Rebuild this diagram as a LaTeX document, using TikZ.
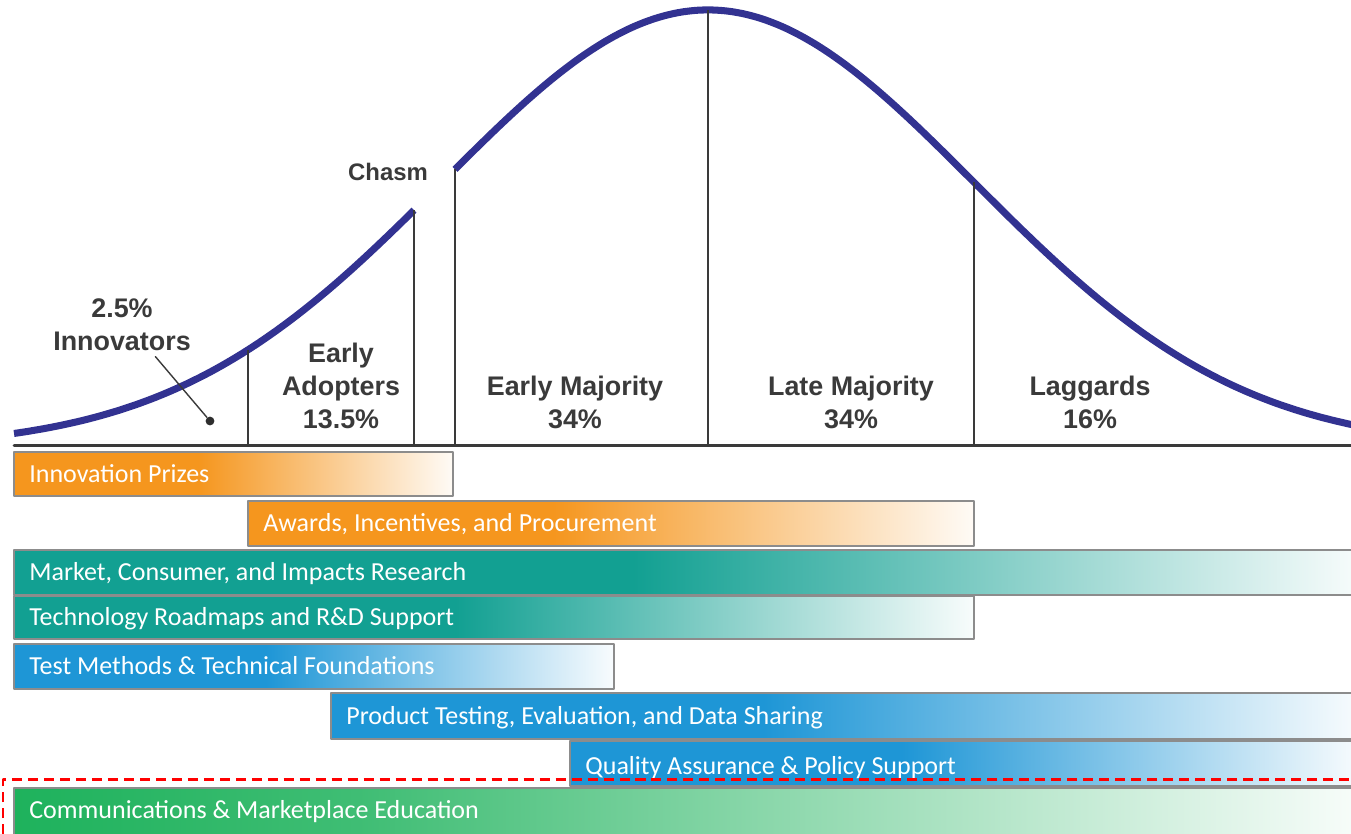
\documentclass[tikz,border=0pt]{standalone}
\usepackage{fontspec}
\setmainfont{Liberation Sans}
\newfontfamily\barfont{Carlito}
\definecolor{curveblue}{RGB}{50,50,145}
\definecolor{inkgrey}{RGB}{58,58,58}
\definecolor{bargrey}{RGB}{140,140,140}
\definecolor{barorange}{RGB}{245,150,30}
\definecolor{barteal}{RGB}{18,160,146}
\definecolor{barblue}{RGB}{30,150,214}
\definecolor{bargreen}{RGB}{30,178,92}
\pgfdeclarehorizontalshading{orangefade}{100bp}{color(0bp)=(barorange); color(25bp)=(barorange); color(46bp)=(barorange); color(75bp)=(barorange!4); color(100bp)=(barorange!4)}
\pgfdeclarehorizontalshading{tealfade}{100bp}{color(0bp)=(barteal); color(25bp)=(barteal); color(48bp)=(barteal); color(75bp)=(barteal!3); color(100bp)=(barteal!3)}
\pgfdeclarehorizontalshading{bluefade}{100bp}{color(0bp)=(barblue); color(25bp)=(barblue); color(46bp)=(barblue); color(75bp)=(barblue!3); color(100bp)=(barblue!3)}
\pgfdeclarehorizontalshading{greenfade}{100bp}{color(0bp)=(bargreen); color(25bp)=(bargreen); color(38bp)=(bargreen!85); color(75bp)=(bargreen!3); color(100bp)=(bargreen!3)}
\begin{document}
\begin{tikzpicture}[x=0.02cm,y=-0.02cm,line join=round,line cap=round,font=\fontsize{15.3}{18.7}\selectfont\bfseries]
    \tikzset{label style/.style={inner sep=0pt,text=inkgrey,align=center},
        curve/.style={curveblue,line width=4pt,line cap=butt},
        divider/.style={inkgrey,line width=1.3pt,line cap=butt},
        axisline/.style={inkgrey,line width=1.7pt},
        dot/.style={circle,fill=inkgrey!80!black,inner sep=0pt,minimum size=5pt},
        bar/.style={draw=bargrey,line width=1pt,shade,shading=#1},
        bartext/.style={font=\barfont\fontsize{14.8}{17}\selectfont,text=white,anchor=base west,inner sep=0pt},
        redframe/.style={red,line width=1.7pt,dash pattern=on 5.7pt off 3.4pt,line cap=butt}}
    \useasboundingbox (0,0) rectangle (1351,833);
    \def \base{445}
    \def \kurve{448-438*exp(-0.5*((\x-708)/266)^2)}
    % bell curve with the chasm
    \draw[curve,samples=120,domain=14:414,smooth,variable=\x] plot (\x,{\kurve});
    \draw[curve,samples=200,domain=455:1360,smooth,variable=\x] plot (\x,{\kurve});
    \foreach \x in {248,414,455,708,974}
        \draw[divider] (\x,\base) -- (\x,{\kurve});
    \draw[axisline] (14,\base) -- (1360,\base);
    % segment labels
    \node[label style,font=\fontsize{13.6}{16}\selectfont\bfseries] (chasm) at (388,172) {Chasm};
    \node[label style] (innov) at (122,325) {2.5\%\\Innovators};
    \node[label style] (adopters) at (341,386) {Early\\Adopters\\13.5\%};
    \node[label style] (earlymaj) at (575,402) {Early Majority\\34\%};
    \node[label style] (latemaj) at (851,402) {Late Majority\\34\%};
    \node[label style] (laggards) at (1090,402) {Laggards\\16\%};
    \node[dot] (dot) at (210,421) {};
    \draw[inkgrey,line width=0.8pt] ([xshift=19pt,yshift=-3pt]innov.south) -- (dot);
    % program bars
    \draw[bar=orangefade] (14,452) rectangle (453,496);
    \node[bartext] (prizes) at (29,482) {Innovation Prizes};
    \draw[bar=orangefade] (248,501) rectangle (974,546);
    \node[bartext] (awards) at (263,531) {Awards, Incentives, and Procurement};
    \draw[bar=tealfade] (14,550) rectangle (1360,595);
    \node[bartext] (market) at (29,580) {Market, Consumer, and Impacts Research};
    \draw[bar=tealfade] (14,596) rectangle (974,639);
    \node[bartext] (roadmaps) at (29,625) {Technology Roadmaps and R\&D Support};
    \draw[bar=bluefade] (14,644) rectangle (614,689);
    \node[bartext] (testmeth) at (29,674) {Test Methods \& Technical Foundations};
    \draw[bar=bluefade] (331,693) rectangle (1360,739);
    \node[bartext] (testing) at (346,724) {Product Testing, Evaluation, and Data Sharing};
    \draw[bar=bluefade] (570,741) rectangle (1360,786);
    \node[bartext] (quality) at (585,774) {Quality Assurance \& Policy Support};
    \draw[bar=greenfade] (14,788) rectangle (1360,845);
    \node[bartext] (comms) at (29,818) {Communications \& Marketplace Education};
    % highlight
    \draw[redframe] (3,850) -- (3,779) -- (1360,779);
\end{tikzpicture}
\end{document}
